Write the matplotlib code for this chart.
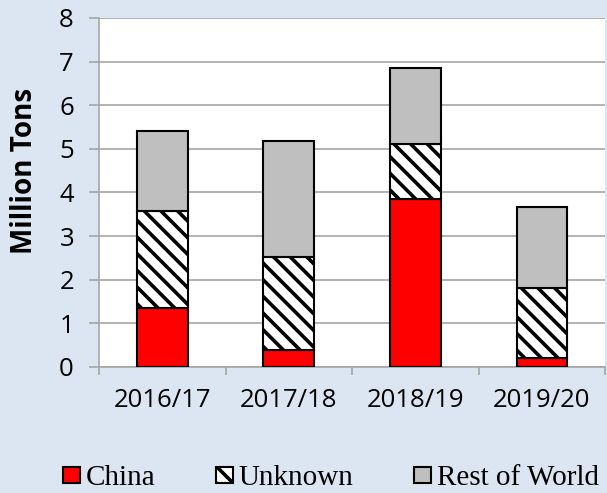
import matplotlib.pyplot as plt
import numpy as np

# Data (million tons)
seasons = ['2016/17', '2017/18', '2018/19', '2019/20']
china = [1.36, 0.39, 3.86, 0.20]
unknown = [2.22, 2.13, 1.25, 1.62]
rest_of_world = [1.82, 2.66, 1.75, 1.84]

plt.rcParams['hatch.linewidth'] = 2.6
plt.rcParams['font.family'] = ['Open Sans', 'DejaVu Sans']

fig = plt.figure(figsize=(6.07, 4.93), dpi=100, facecolor='#dce6f2')
ax = fig.add_axes([0.163, 0.2556, 0.834, 0.708])
ax.set_facecolor('white')

x = np.arange(len(seasons))
w = 0.4
china_arr = np.array(china)
unk_arr = np.array(unknown)

ax.bar(x, china, w, color='#ff0000', edgecolor='black', linewidth=1.5,
       label='China', zorder=3)
ax.bar(x, unknown, w, bottom=china_arr, color='white', edgecolor='black',
       hatch='\\\\', linewidth=1.5, label='Unknown', zorder=3)
ax.bar(x, rest_of_world, w, bottom=china_arr + unk_arr, color='#bfbfbf',
       edgecolor='black', linewidth=1.5, label='Rest of World', zorder=3)

ax.set_ylim(0, 8)
ax.set_xlim(-0.5, 3.5)
ax.set_yticks(range(9))
ax.yaxis.grid(True, color='#a6a6a6', linewidth=1.2, zorder=0)
ax.set_xticks(x)
ax.set_xticklabels(seasons, fontsize=18.5)
ax.set_xticks(np.arange(-0.5, 4, 1), minor=True)
ax.tick_params(axis='x', which='major', length=0, pad=15)
ax.tick_params(axis='x', which='minor', length=6, color='#a6a6a6', width=1.2)
ax.tick_params(axis='y', labelsize=18.5, length=7, color='#a6a6a6', width=1.2, pad=11)

for side in ['top', 'right']:
    ax.spines[side].set_visible(False)
for side in ['left', 'bottom']:
    ax.spines[side].set_color('#a6a6a6')
    ax.spines[side].set_linewidth(1.2)

ax.set_ylabel('Million Tons', fontsize=20, fontweight='bold')
ax.yaxis.set_label_coords(-0.118, 0.562)

handles, labels = ax.get_legend_handles_labels()
fig.legend(handles, labels, loc='lower center', bbox_to_anchor=(0.545, -0.05),
           ncol=3, frameon=False, prop={'family': 'Liberation Serif', 'size': 21},
           handlelength=0.6, handleheight=0.5, handletextpad=0.2,
           columnspacing=2.05)

fig.savefig('out.png', dpi=100, facecolor=fig.get_facecolor())
